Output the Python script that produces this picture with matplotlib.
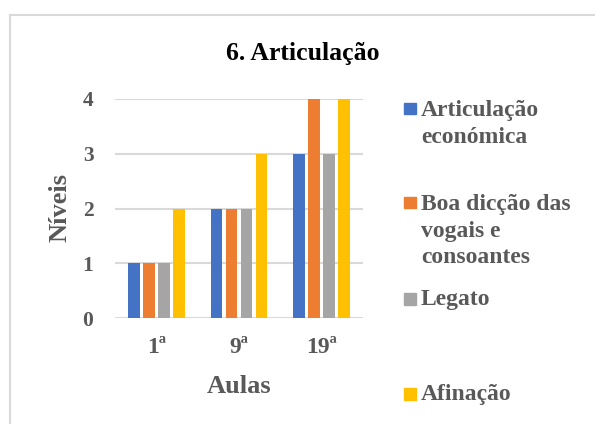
import matplotlib
matplotlib.use("Agg")
import matplotlib.pyplot as plt
import numpy as np
from matplotlib.patches import Rectangle
from matplotlib.lines import Line2D

categories = ["1ª", "9ª", "19ª"]
series_names = ["Articulação\neconómica", "Boa dicção das\nvogais e\nconsoantes", "Legato", "Afinação"]
articulacao = [1, 2, 3]
diccao = [1, 2, 4]
legato = [1, 2, 3]
afinacao = [2, 3, 4]
yticks = [0, 1, 2, 3, 4]
title = "6. Articulação"
xlabel = "Aulas"
ylabel = "Níveis"

colors = ["#4472C4", "#ED7D31", "#A5A5A5", "#FFC000"]
txtc = "#595959"
W, H = 595, 424
plt.rcParams['font.family'] = ['Liberation Serif', 'DejaVu Serif']

fig = plt.figure(figsize=(W/100, H/100), dpi=100)
fig.patch.set_facecolor("white")

def fx(x): return x / W
def fy(y): return 1 - y / H

AX_L, AX_R, AX_T, AX_B = 115, 363, 99, 318
ax = fig.add_axes([fx(AX_L), fy(AX_B), fx(AX_R) - fx(AX_L), fy(AX_T) - fy(AX_B)])
values = [articulacao, diccao, legato, afinacao]
x = np.arange(len(categories))
step = 0.181
bw = 0.141
for i, (vals, c) in enumerate(zip(values, colors)):
    ax.bar(x + (i - 1.5) * step, vals, width=bw, color=c, zorder=3)

ax.set_xlim(-0.5, len(categories) - 0.5)
ax.set_ylim(0, 4)
ax.set_yticks(yticks)
ax.set_yticklabels([str(t) for t in yticks])
ax.set_xticks(x)
ax.set_xticklabels(categories)
for s in ax.spines.values():
    s.set_visible(False)
ax.grid(axis='y', color="#D9D9D9", linewidth=1.5, zorder=0)
ax.set_axisbelow(True)
ax.tick_params(length=0, colors=txtc)
ax.tick_params(axis='y', labelsize=15.5, pad=15.5)
ax.tick_params(axis='x', labelsize=17, pad=25)
for lab in ax.get_xticklabels():
    lab.set_fontweight('bold')
    lab.set_va('baseline')
for lab in ax.get_yticklabels():
    lab.set_fontweight('bold')

axw, axh = AX_R - AX_L, AX_B - AX_T
ax.set_xlabel(xlabel, fontsize=19, fontweight='bold', color=txtc, va='baseline')
ax.xaxis.set_label_coords(0.5, (AX_B - 393) / axh)
ax.set_ylabel(ylabel, fontsize=19, fontweight='bold', color=txtc, va='center')
ax.yaxis.set_label_coords((60 - AX_L) / axw, (AX_B - 208) / axh)

fig.text(fx(303), fy(60), title, ha='center', va='baseline', fontsize=18.5,
         fontweight='bold', color='black')

# legend
first_baseline = [116, 210, 305, 400]
marker_top = [102.7, 196.7, 293, 388]
line_gap = 26.7
for name, c, yb, mt in zip(series_names, colors, first_baseline, marker_top):
    fig.patches.append(Rectangle((fx(404), fy(mt + 11.5)), fx(11.7), 11.5 / H,
                                 transform=fig.transFigure, color=c))
    for k, line in enumerate(name.split("\n")):
        fig.text(fx(421), fy(yb + k * line_gap), line, ha='left', va='baseline',
                 fontsize=17, fontweight='bold', color=txtc)

# frame
fig.add_artist(Line2D([fx(10), 1], [fy(15), fy(15)], color="#D9D9D9", lw=1.5))
fig.add_artist(Line2D([fx(10), fx(10)], [fy(15), 0], color="#D9D9D9", lw=1.5))

fig.savefig("out.png", dpi=100)
